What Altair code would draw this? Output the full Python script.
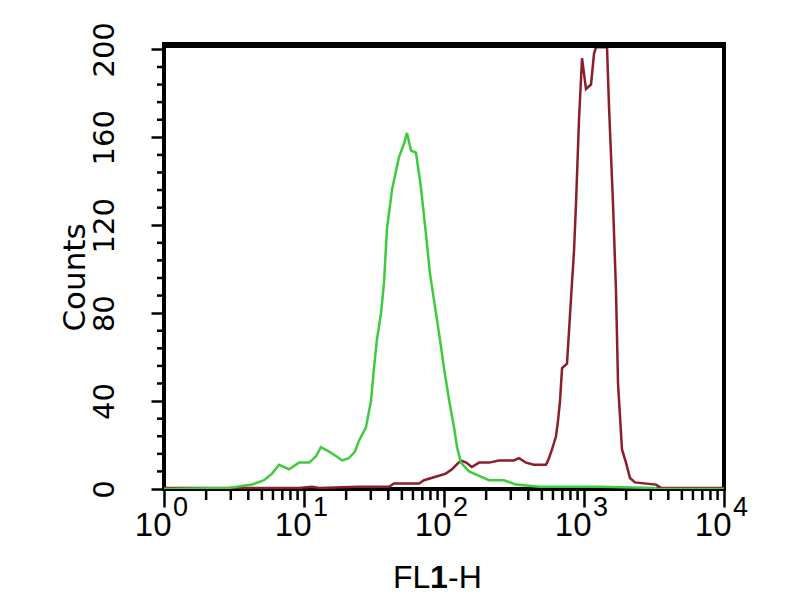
import altair as alt
import pandas as pd

# Green histogram (unstained / control), FL1-H value vs counts
fl_green = [1.0, 2.91, 4.25, 5.18, 5.91, 6.63, 7.81, 9.21, 10.9, 12.2, 13.2, 15.1, 16.9,
            18.7, 20.9, 23.1, 24.7, 27.7, 30.1, 31.6, 33.2, 35.5, 37.3, 39.1, 42.5, 47.7,
            51.8, 54.4, 58.1, 63.1, 68.5, 74.3, 79.4, 86.2, 92.1, 100, 109, 118, 124, 132,
            151, 178, 210, 268, 327, 477, 1280, 3162, 3433, 10000]
cnt_green = [0, 0.5, 2, 4, 7, 11, 9, 12, 12, 15, 19, 17, 15,
             13, 14, 17, 22, 28, 40, 55, 68, 80, 94, 118, 136, 151,
             157, 162, 154, 153, 137, 116, 98, 83, 71, 55, 40, 28, 19, 12,
             8, 6, 4, 4, 2, 1, 1, 0.5, 0, 0]

# Dark red histogram (stained)
fl_red = [1.0, 9.21, 11.4, 12.8, 24.7, 31.6, 40.5, 43.9, 66.3, 72.0, 92.1, 103, 114,
          132, 144, 158, 178, 210, 247, 316, 343, 385, 439, 535, 562, 591, 631, 652,
          674, 697, 756, 821, 848, 877, 921, 968, 1033, 1122, 1179, 1219, 1460, 1509,
          1611, 1693, 1750, 1868, 1995, 2131, 2311, 3268, 3548, 10000]
cnt_red = [0.5, 0.5, 1, 0.5, 1, 1, 1, 2.5, 2.5, 4, 6, 7, 9,
           13, 12, 10, 12, 12, 13, 13, 14, 12, 11, 11, 14, 18, 24, 31,
           40, 55, 57, 94, 108, 130, 168, 196, 182, 184, 198, 201, 201, 174,
           130, 90, 48, 18, 12, 5, 3, 2, 0.5, 0.5]

x_major = [1, 10, 100, 1000, 10000]
x_exp = ["0", "1", "2", "3", "4"]
x_minor = [2, 3, 4, 5, 6, 7, 8, 9, 20, 30, 40, 50, 60, 70, 80, 90,
           200, 300, 400, 500, 600, 700, 800, 900, 2000, 3000, 4000, 5000, 6000, 7000, 8000, 9000]
y_major = [0, 40, 80, 120, 160, 200]
y_minor = [8, 16, 24, 32, 48, 56, 64, 72, 88, 96, 104, 112, 128, 136, 144, 152,
           168, 176, 184, 192]
title_parts = ["FL", "1", "-H"]

W, H = 560, 444
SANS = "Liberation Sans, Arial, sans-serif"
WIDE = "DejaVu Sans, Verdana, sans-serif"

green_df = pd.DataFrame({"fl": fl_green, "count": cnt_green})
red_df = pd.DataFrame({"fl": fl_red, "count": cnt_red})
xmin_df = pd.DataFrame({"fl": x_minor})
ymin_df = pd.DataFrame({"count": y_minor})
exp_df = pd.DataFrame({"fl": x_major, "e": x_exp})
one = pd.DataFrame({"a": [0]})

xscale = alt.Scale(type="log", domain=[1, 10000])
yscale = alt.Scale(domain=[0, 202], nice=False, zero=True)

x_axis = alt.Axis(values=x_major, labelExpr="'10'", labelFont=SANS, labelFontSize=33,
                  labelColor="black", labelAlign="right", labelOffset=7,
                  labelBaseline="alphabetic", labelPadding=28, labelFlush=False,
                  labelOverlap=False, tickSize=18, tickWidth=2.5, tickColor="black",
                  domain=False, grid=False, title=None)
y_axis = alt.Axis(values=y_major, labelAngle=-90, labelAlign="center",
                  labelBaseline="bottom", labelFont=WIDE, labelFontSize=29,
                  labelColor="black", labelPadding=32, labelFlush=False,
                  labelOverlap=False, tickSize=13, tickWidth=2.5, tickColor="black",
                  domain=False, grid=False, title="Counts", titleFont=WIDE,
                  titleFontSize=31, titleFontWeight="normal", titleColor="black",
                  titleAngle=-90, titleBaseline="alphabetic", titleX=-80,
                  titleY=H / 2 + 10, titleAlign="center")

X = alt.X("fl:Q", scale=xscale, axis=x_axis)
Y = alt.Y("count:Q", scale=yscale, axis=y_axis)

red_line = alt.Chart(red_df).mark_line(color="#8b1e2b", strokeWidth=2.5, clip=True).encode(x=X, y=Y)
green_line = alt.Chart(green_df).mark_line(color="#3dcc3d", strokeWidth=2.5, clip=True).encode(x=X, y=Y)
y_minor_ticks = alt.Chart(ymin_df).mark_rule(color="black", strokeWidth=2.5).encode(
    y=Y, x=alt.value(0), x2=alt.value(-7),
)
x_minor_ticks = alt.Chart(xmin_df).mark_rule(color="black", strokeWidth=2.5).encode(
    x=X, y=alt.value(H), y2=alt.value(H + 11),
)
exponents = alt.Chart(exp_df).mark_text(align="left", baseline="alphabetic", dx=9,
                                        fontSize=27, font=SANS, color="black").encode(
    x=X, y=alt.value(H + 27), text="e:N",
)
top_bar = alt.Chart(one).mark_rule(color="black", strokeWidth=6).encode(
    x=alt.value(-2), x2=alt.value(W + 2), y=alt.value(0),
)

# x-axis title "FL1-H" with a bold "1"
t_fl = alt.Chart(one).mark_text(text=title_parts[0], align="left", baseline="alphabetic",
                                fontSize=32, font=SANS, color="black").encode(
    x=alt.value(229), y=alt.value(H + 99))
t_1 = alt.Chart(one).mark_text(text=title_parts[1], align="left", baseline="alphabetic",
                               fontSize=32, font=SANS, fontWeight="bold", color="black").encode(
    x=alt.value(266), y=alt.value(H + 99))
t_h = alt.Chart(one).mark_text(text=title_parts[2], align="left", baseline="alphabetic",
                               fontSize=32, font=SANS, color="black").encode(
    x=alt.value(284), y=alt.value(H + 99))

chart = alt.layer(red_line, green_line, y_minor_ticks, x_minor_ticks, exponents, top_bar,
                  t_fl, t_1, t_h).properties(
    width=W, height=H,
    autosize=alt.AutoSizeParams(type="none"),
    padding={"left": 156, "top": 37, "right": 60, "bottom": 110},
    background="white",
).configure_view(stroke="black", strokeWidth=4)

chart.save("out.html", embed_options={"renderer": "svg", "actions": False})
